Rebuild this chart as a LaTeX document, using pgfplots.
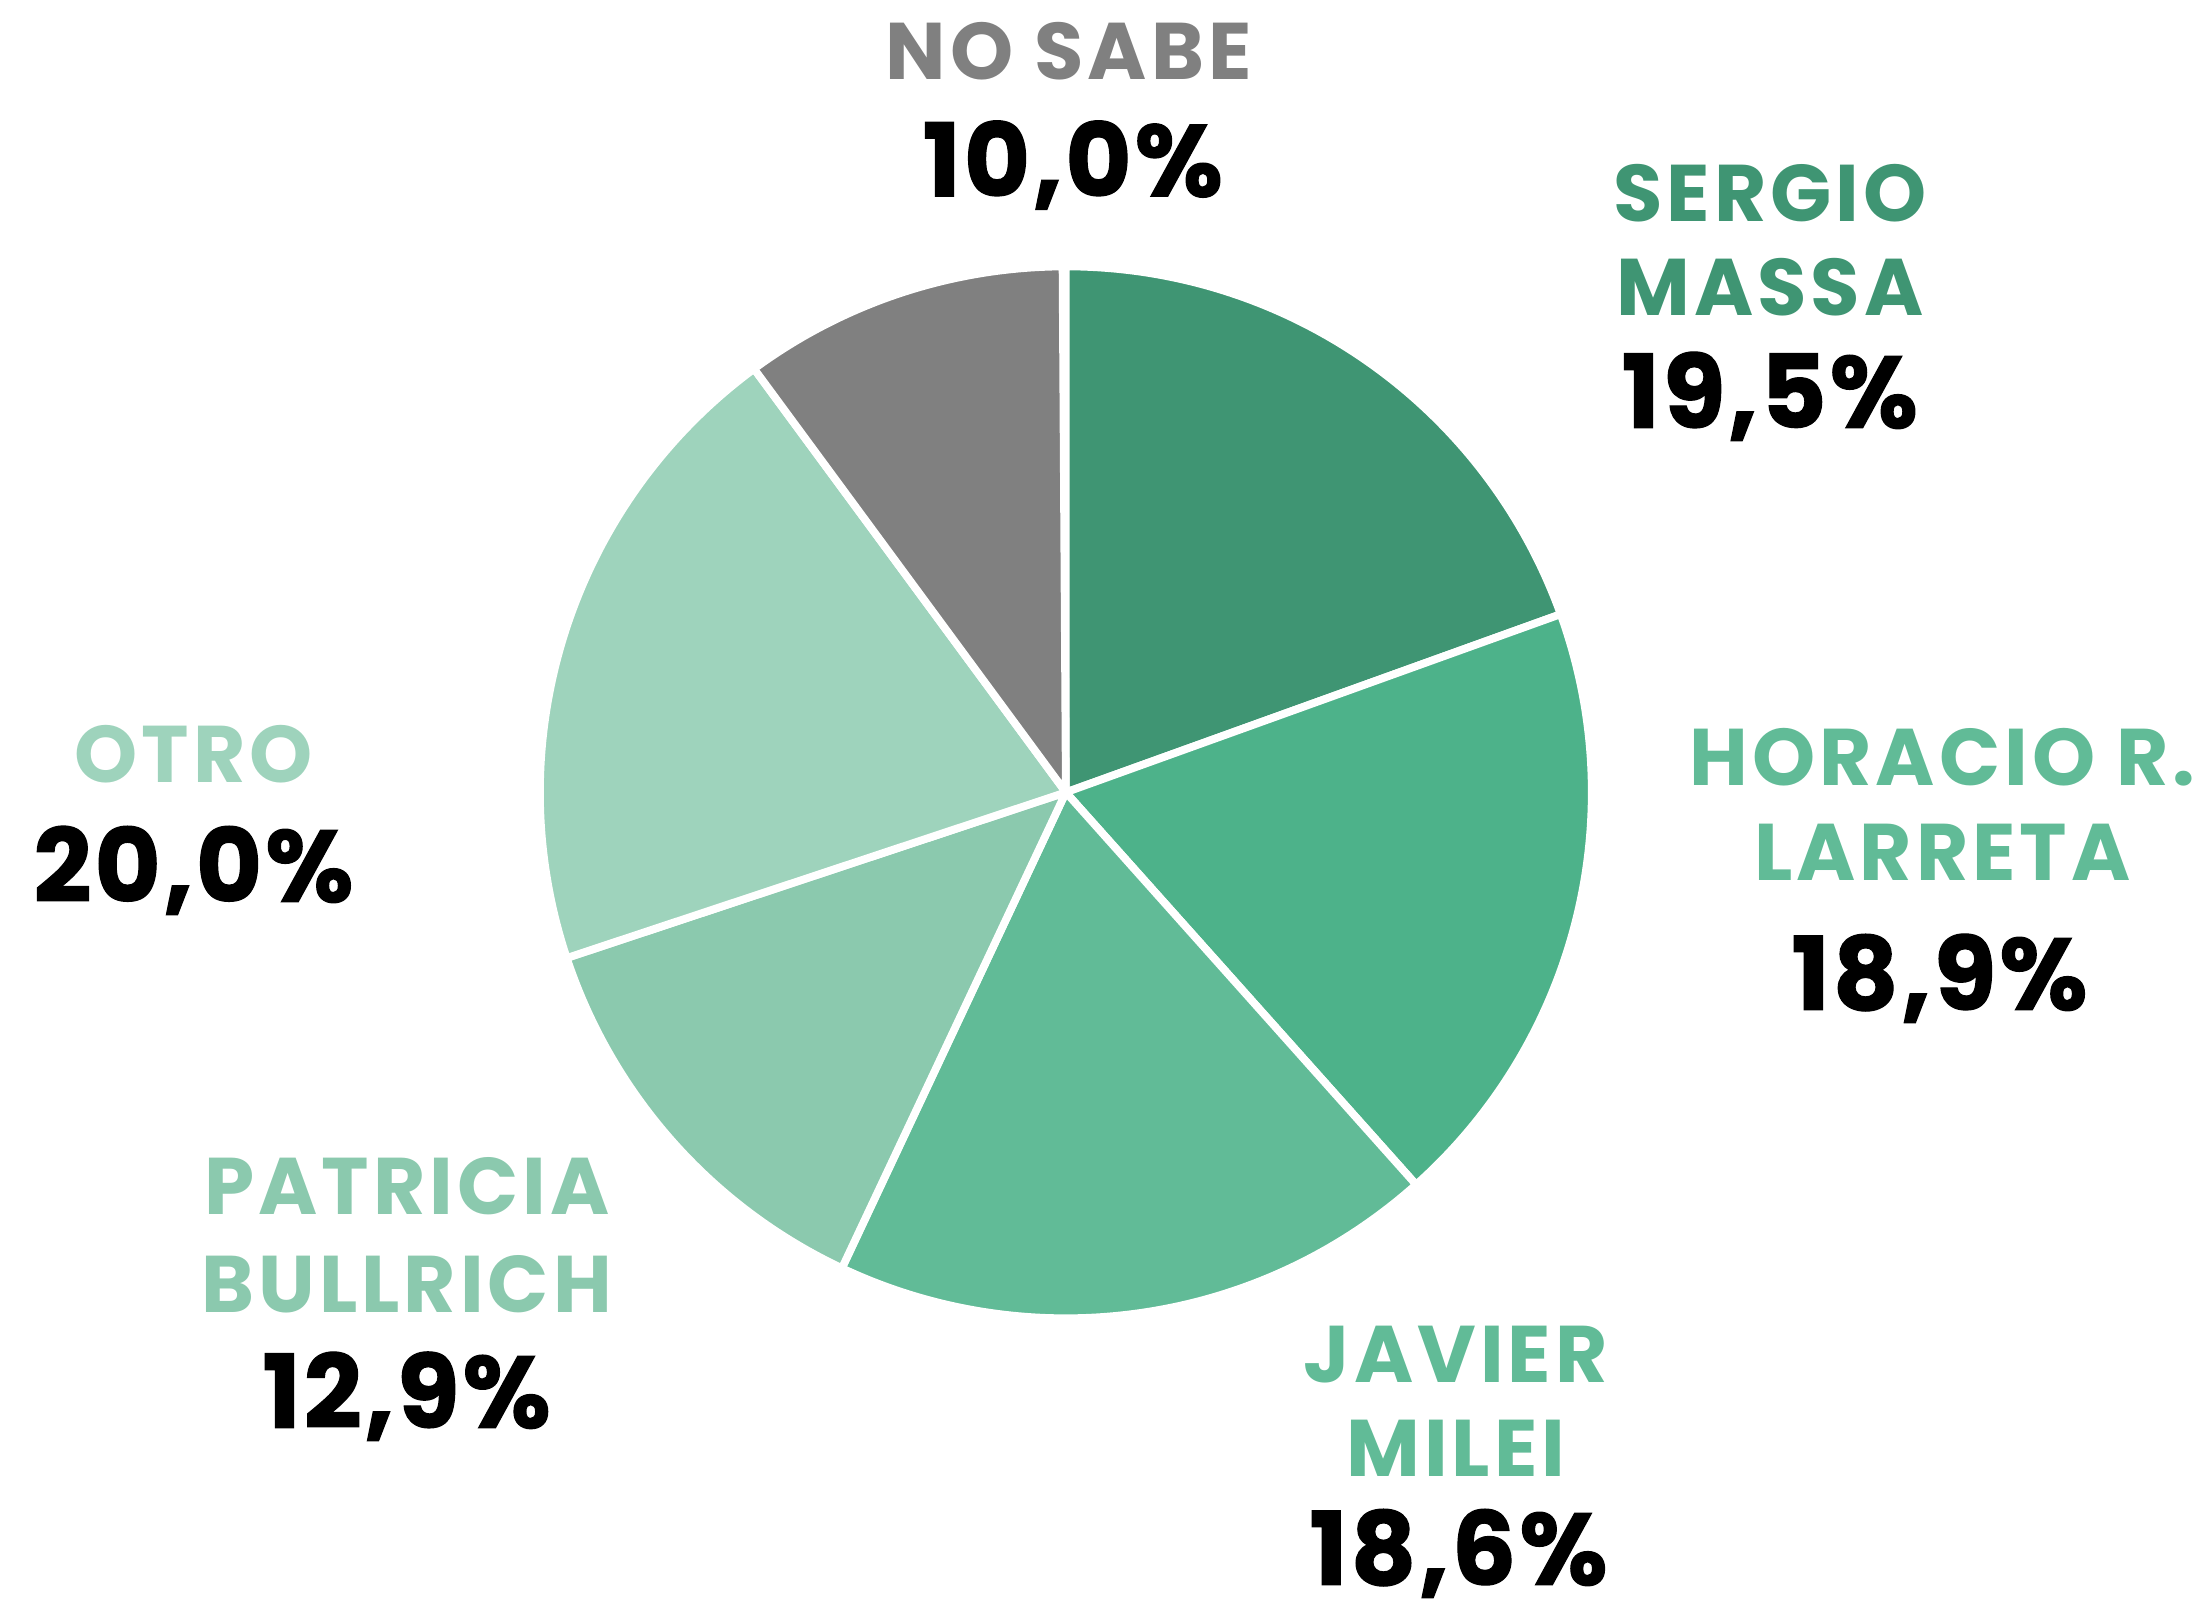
\documentclass[border=0pt]{standalone}
\usepackage{pgfplots}
\pgfplotsset{compat=1.18}
\usepackage{fontspec}
\setmainfont{Poppins}
\newfontfamily\namefont{Poppins}[LetterSpace=5]
\newfontfamily\numfont{Poppins}[LetterSpace=3,BoldFeatures={FakeBold=1.2}]
\definecolor{cMassa}{HTML}{3F9573}
\definecolor{cLarreta}{HTML}{4DB28A}
\definecolor{cMilei}{HTML}{61BB97}
\definecolor{cBullrich}{HTML}{8BC9AE}
\definecolor{cOtro}{HTML}{9ED3BC}
\definecolor{cNoSabe}{HTML}{808080}
\begin{document}
\begin{tikzpicture}
\begin{axis}[
  scale only axis, width=15.68cm, height=11.44cm,
  xmin=0, xmax=1568, ymin=0, ymax=1144,
  hide axis, clip=false,
]
% porcentajes, en sentido horario desde arriba
\gdef\startang{90}
\foreach \v/\c in {19.5/cMassa,18.9/cLarreta,18.6/cMilei,12.9/cBullrich,20.0/cOtro,10.0/cNoSabe}{
  \pgfmathsetmacro\endang{\startang-3.6*\v}
  \pgfmathsetmacro\xa{760+375*cos(\startang)}
  \pgfmathsetmacro\ya{579+375*sin(\startang)}
  \edef\temp{\noexpand\fill[\c,draw=white,line width=0.55mm,line join=round]
    (axis cs:760,579) -- (axis cs:\xa,\ya)
    arc[start angle=\startang,end angle=\endang,radius=37.5mm] -- cycle;}
  \temp
  \xdef\startang{\endang}
}
% etiquetas
\tikzset{nm/.style={anchor=base,inner sep=0pt,font=\namefont\bfseries\fontsize{16.3}{18}\selectfont},
         pc/.style={anchor=base,inner sep=0pt,font=\numfont\bfseries\fontsize{20.6}{24}\selectfont}}
\node[nm,text=cNoSabe] at (axis cs:762,1087) {NO SABE};
\node[pc] at (axis cs:765,1004) {10,0\%};
\node[nm,text=cMassa] at (axis cs:1262,986) {SERGIO};
\node[nm,text=cMassa] at (axis cs:1262,919) {MASSA};
\node[pc] at (axis cs:1262,839) {19,5\%};
\node[nm,text=cMilei] at (axis cs:1385,584) {HORACIO R.};
\node[nm,text=cMilei] at (axis cs:1385,516) {LARRETA};
\node[pc] at (axis cs:1383,424) {18,9\%};
\node[nm,text=cOtro] at (axis cs:138,586) {OTRO};
\node[pc] at (axis cs:138,501) {20,0\%};
\node[nm,text=cBullrich] at (axis cs:290,278) {PATRICIA};
\node[nm,text=cBullrich] at (axis cs:290,208) {BULLRICH};
\node[pc] at (axis cs:290,126) {12,9\%};
\node[nm,text=cMilei] at (axis cs:1038,158) {JAVIER};
\node[nm,text=cMilei] at (axis cs:1038,91) {MILEI};
\node[pc] at (axis cs:1040,14) {18,6\%};
\end{axis}
\pgfresetboundingbox
\path (current axis.south west) rectangle (current axis.north east);
\end{tikzpicture}
\end{document}
